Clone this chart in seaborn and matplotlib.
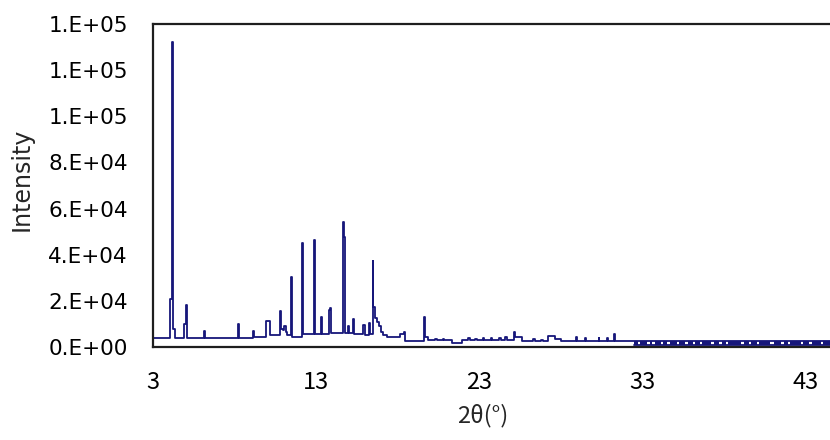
"""
XRD pattern: intensity vs 2-theta, Excel-style line chart.
Saves out.png (830x440).
"""

import numpy as np
import pandas as pd
import matplotlib
matplotlib.use("Agg")
import matplotlib.pyplot as plt
from matplotlib.ticker import FuncFormatter
import seaborn as sns

# --- data ------------------------------------------------------------------
two_theta = [
    3.00, 4.05, 4.18, 4.24, 4.38,
    4.92, 5.02, 5.08,
    6.12, 6.18,
    8.25, 8.31,
    9.12, 9.20,
    9.95, 10.20,
    10.82, 10.88, 10.98, 11.06, 11.14, 11.24,
    11.47, 11.53,
    12.15, 12.21,
    12.86, 12.96,
    13.30, 13.36,
    13.80, 13.86, 13.94,
    14.64, 14.70, 14.78,
    14.96, 15.02,
    15.26, 15.32,
    15.88, 15.98,
    16.22, 16.28,
    16.46, 16.52, 16.62, 16.76, 16.88, 16.98, 17.10,
    17.35, 18.15, 18.38, 18.46,
    19.64, 19.70, 19.85,
    20.30, 20.40, 20.75, 20.85,
    21.30, 21.95, 22.30, 22.40, 22.75, 22.85, 23.20, 23.30,
    23.70, 23.80, 24.20, 24.30, 24.60, 24.70,
    25.12, 25.20, 25.62, 26.30, 26.40, 26.80, 26.90,
    27.20, 27.62, 28.00,
    28.90, 28.96, 29.50, 29.56, 30.30, 30.36, 30.80, 30.86,
    31.25, 31.32, 32.50, 45.20,
]
intensity = [
    3700, 20900, 132000, 7700, 3700,
    9900, 18300, 3700,
    7000, 3700,
    9900, 3700,
    7000, 4300,
    11300, 5000,
    15600, 8000, 7500, 9000, 6500, 5000,
    30300, 4500,
    45000, 5500,
    46400, 5500,
    13100, 5500,
    16000, 17000, 6000,
    54200, 47500, 6000,
    9100, 6000,
    12300, 5800,
    9400, 5000,
    10600, 5500,
    37100, 17500, 12700, 11000, 8900, 6500, 5200,
    4200, 5800, 6600, 2800,
    13000, 4200, 3000,
    3600, 3000, 3600, 3000,
    1900, 3000, 3700, 3000, 3600, 3000, 3700, 3000,
    3800, 3000, 3900, 3000, 4300, 3000,
    6600, 4500, 2700, 3300, 2700, 3200, 2700,
    4700, 3300, 2400,
    4300, 2400, 4000, 2400, 3800, 2400, 4000, 2400,
    5600, 2400, 2400, 2400,
]

# noisy tail above ~32.5 deg: lower envelope and the stretches where the
# trace is a solid band (False = small white gap between the envelopes)
noise_edges = [
    32.50, 32.70, 32.85, 33.30, 33.45, 33.60, 33.75, 34.10, 34.25, 34.50,
    34.65, 35.10, 35.25, 35.60, 35.75, 36.10, 36.22, 36.50, 36.65, 37.20,
    37.35, 37.70, 37.85, 38.10, 38.22, 39.00, 39.20, 39.50, 39.65, 40.00,
    40.15, 40.80, 41.05, 41.50, 41.65, 41.90, 42.05, 42.70, 42.82, 43.20,
    43.35, 43.90, 44.05, 45.20,
]
noise_solid = [i % 2 == 0 for i in range(len(noise_edges) - 1)]
noise_low = [800] * len(noise_edges)
noise_high = [2400] * len(noise_edges)

y_ticks = [0, 20000, 40000, 60000, 80000, 100000, 120000, 140000]
x_ticks = [3, 13, 23, 33, 43]

LINE = "#16167a"

sns.set_style("white")
plt.rcParams["font.family"] = ["DejaVu Sans"]


def main():
    df = pd.DataFrame({"two_theta": two_theta, "intensity": intensity})
    tail = pd.DataFrame({"two_theta": noise_edges, "low": noise_low, "high": noise_high})

    fig = plt.figure(figsize=(8.3, 4.4), dpi=100)
    ax_w_px = 842 - 152.7
    ax_h_px = 347 - 24
    ax = fig.add_axes([152.7 / 830, 1 - 347 / 440, ax_w_px / 830, ax_h_px / 440])

    # solid parts of the noisy band
    for a, b, lo, hi, solid in zip(noise_edges[:-1], noise_edges[1:],
                                   noise_low[:-1], noise_high[:-1], noise_solid):
        if solid:
            ax.fill_between([a, b], lo, hi, color=LINE, linewidth=0)
    sns.lineplot(data=tail, x="two_theta", y="low", color=LINE, lw=1.3,
                 drawstyle="steps-post", ax=ax)

    sns.lineplot(data=df, x="two_theta", y="intensity", color=LINE, lw=1.3,
                 drawstyle="steps-post", ax=ax)

    px_per_deg = 16.33
    ax.set_xlim(3, 3 + ax_w_px / px_per_deg)
    ax.set_ylim(0, 140000)

    ax.set_yticks(y_ticks)
    ax.yaxis.set_major_formatter(FuncFormatter(lambda v, p: f"{v:.0E}".replace("E", ".E")))
    ax.set_xticks(x_ticks)
    ax.set_xticklabels([str(t) for t in x_ticks], family=["Noto Sans CJK JP", "DejaVu Sans"])

    ax.tick_params(axis="y", direction="in", length=6, width=1.5, pad=18,
                   labelsize=15.5, colors="black")
    ax.tick_params(axis="x", direction="in", length=4, width=1.2, pad=17,
                   labelsize=17, colors="black")

    for side in ["left", "top", "bottom", "right"]:
        ax.spines[side].set_color("#1e1e1e")
        ax.spines[side].set_linewidth(1.6)

    ax.set_ylabel("Intensity", fontsize=17)
    ax.set_xlabel("2θ(°)", fontsize=17, family=["Noto Sans CJK JP", "DejaVu Sans"])
    ax.yaxis.set_label_coords((22 - 152.7) / ax_w_px, 0.52)
    ax.xaxis.set_label_coords((483 - 152.7) / ax_w_px, -(416 - 347) / ax_h_px)
    ax.xaxis.label.set_va("center")
    ax.yaxis.label.set_va("center")

    fig.savefig("out.png", dpi=100, facecolor="white")
    plt.close(fig)


if __name__ == "__main__":
    main()
